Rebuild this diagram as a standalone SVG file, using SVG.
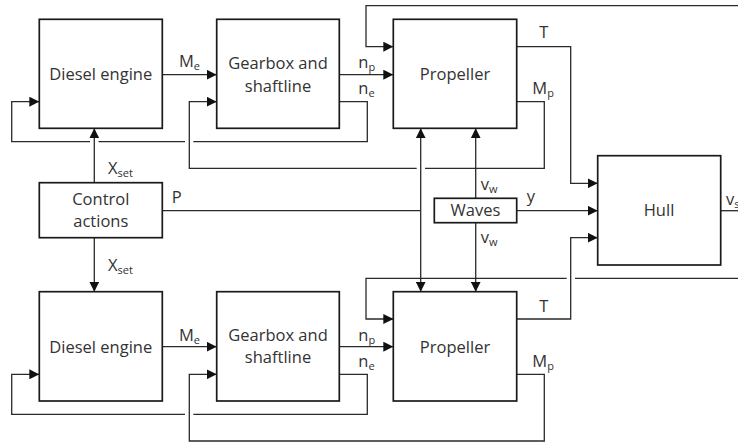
<svg xmlns="http://www.w3.org/2000/svg" width="738" height="444" viewBox="0 0 738 444">
<style>
.box{fill:#fff;stroke:#1a1a1a;stroke-width:1.7}
.ln{fill:none;stroke:#2a2a2a;stroke-width:1.3}
.arr{marker-end:url(#ah)}
text{font-family:"Open Sans","Noto Sans","Liberation Sans",sans-serif;font-size:16.5px;fill:#333}
.c{text-anchor:middle}
.sub{font-size:11px}
</style>
<defs>
<marker id="ah" markerUnits="userSpaceOnUse" markerWidth="10" markerHeight="10" refX="10" refY="5" orient="auto">
<path d="M0,0 L10,5 L0,10 z" fill="#111"/>
</marker>
</defs>
<g id="connectors">
<!-- top row -->
<path class="ln arr" d="M162.3,74.7 H216.7"/>
<path class="ln arr" d="M339.3,74.7 H393.3"/>
<path class="ln" d="M339.3,101.7 H367.3 V141.7 H193.3"/>
<path class="ln" d="M185,141.7 H98.5"/>
<path class="ln arr" d="M90,141.7 H11.7 V101.7 H39.3"/>
<path class="ln" d="M516.7,101.7 H544.3 V168.3 H425"/>
<path class="ln arr" d="M416.7,168.3 H189.3 V101.7 H216.7"/>
<path class="ln arr" d="M738,5.7 H366 V46.7 H393.3"/>
<path class="ln arr" d="M516.7,46.7 H570.7 V183.3 H597.7"/>
<!-- middle -->
<path class="ln arr" d="M94.3,182.7 V128.3"/>
<path class="ln arr" d="M94.3,237.7 V291.7"/>
<path class="ln" d="M162.3,210.7 H420.7"/>
<path class="ln arr" d="M420.7,210.7 V128.3"/>
<path class="ln arr" d="M420.7,210.7 V291.7"/>
<path class="ln arr" d="M475.7,198.3 V128.3"/>
<path class="ln arr" d="M475.7,222.7 V291.7"/>
<path class="ln arr" d="M516.7,210.7 H597.7"/>
<path class="ln" d="M720.7,210.7 H738"/>
<!-- bottom row -->
<path class="ln" d="M738,278.3 H575"/>
<path class="ln arr" d="M566.7,278.3 H366 V319 H393.3"/>
<path class="ln arr" d="M516.7,319 H570.7 V237.7 H597.7"/>
<path class="ln arr" d="M162.3,346.7 H216.7"/>
<path class="ln arr" d="M339.3,346.7 H393.3"/>
<path class="ln" d="M339.3,374.3 H367.3 V414.3 H193.3"/>
<path class="ln arr" d="M185,414.3 H11.7 V374.3 H39.3"/>
<path class="ln arr" d="M516.7,374.3 H544.3 V441 H189.3 V374.3 H216.7"/>
<!-- labels -->
<text x="179" y="67.3">M<tspan class="sub" dy="3">e</tspan></text>
<text x="358.3" y="67.7">n<tspan class="sub" dy="3">p</tspan></text>
<text x="358.3" y="94">n<tspan class="sub" dy="3">e</tspan></text>
<text x="539.3" y="38.3">T</text>
<text x="532.3" y="94">M<tspan class="sub" dy="3">p</tspan></text>
<text x="108" y="174">X<tspan class="sub" dy="3">set</tspan></text>
<text x="108" y="271">X<tspan class="sub" dy="3">set</tspan></text>
<text x="171.7" y="202.7">P</text>
<text x="526.7" y="202">y</text>
<text x="480.7" y="190">v<tspan class="sub" dy="3">w</tspan></text>
<text x="480.7" y="243.3">v<tspan class="sub" dy="3">w</tspan></text>
<text x="726" y="205">v<tspan class="sub" dy="3">s</tspan></text>
<text x="179" y="341">M<tspan class="sub" dy="3">e</tspan></text>
<text x="358.3" y="340.7">n<tspan class="sub" dy="3">p</tspan></text>
<text x="358.3" y="367">n<tspan class="sub" dy="3">e</tspan></text>
<text x="539.3" y="311.7">T</text>
<text x="532.3" y="366.7">M<tspan class="sub" dy="3">p</tspan></text>
</g>
<g id="diesel-top"><rect class="box" x="39.3" y="19.3" width="123" height="109"/><text class="c" x="100.8" y="80">Diesel engine</text></g>
<g id="gearbox-top"><rect class="box" x="216.7" y="19.3" width="122.6" height="109"/><text class="c" x="278" y="69.3">Gearbox and</text><text class="c" x="278" y="91.7">shaftline</text></g>
<g id="propeller-top"><rect class="box" x="393.3" y="19.3" width="123.4" height="109"/><text class="c" x="455" y="80">Propeller</text></g>
<g id="control"><rect class="box" x="39.3" y="182.7" width="123" height="55"/><text class="c" x="100.8" y="205">Control</text><text class="c" x="100.8" y="227.3">actions</text></g>
<g id="waves"><rect class="box" x="434.3" y="198.3" width="82.4" height="24.4"/><text class="c" x="475.5" y="216">Waves</text></g>
<g id="hull"><rect class="box" x="597.7" y="155.7" width="123" height="109.3"/><text class="c" x="659" y="216">Hull</text></g>
<g id="diesel-bottom"><rect class="box" x="39.3" y="291.7" width="123" height="109.3"/><text class="c" x="100.8" y="352.7">Diesel engine</text></g>
<g id="gearbox-bottom"><rect class="box" x="216.7" y="291.7" width="122.6" height="109.3"/><text class="c" x="278" y="340.7">Gearbox and</text><text class="c" x="278" y="363.3">shaftline</text></g>
<g id="propeller-bottom"><rect class="box" x="393.3" y="291.7" width="123.4" height="109.3"/><text class="c" x="455" y="352.7">Propeller</text></g>
</svg>
